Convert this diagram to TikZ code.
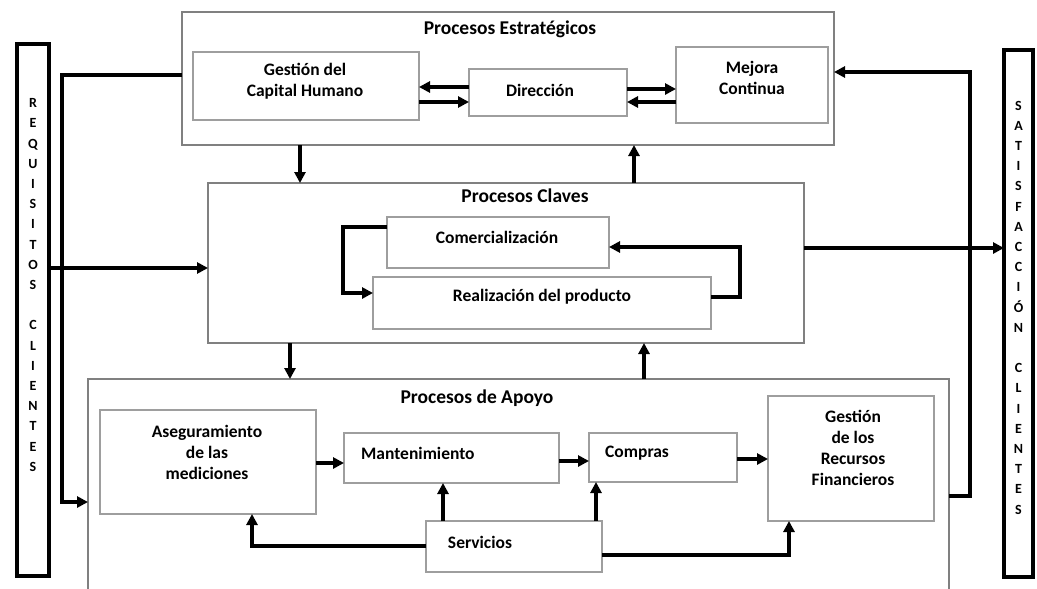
\documentclass[tikz,border=0pt]{standalone}
\usepackage{fontspec}
\setmainfont{Carlito}
\usetikzlibrary{arrows.meta,fit}
\begin{document}
\begin{tikzpicture}[x=1pt,y=-1pt,
  outerbox/.style={draw=black!50, line width=2.7pt, inner sep=0pt, outer sep=0pt},
  innerbox/.style={draw=black!38, line width=2.2pt, inner sep=0pt, outer sep=0pt},
  sidebar/.style={draw=black, line width=3.8pt, inner sep=0pt, outer sep=0pt},
  arr/.style={draw=black, line width=3.2pt, -{Triangle[length=11pt,width=11pt]}},
  title/.style={font=\fontsize{19.5}{21}\selectfont\bfseries, inner sep=0pt},
  lbl/.style={font=\fontsize{17.5}{21}\selectfont\bfseries, align=center, inner sep=0pt},
  vert/.style={font=\fontsize{14}{20.2}\selectfont\bfseries, align=center, inner sep=0pt}]

\fill[white] (0,0) rectangle (1037,589);
\useasboundingbox (0,0) rectangle (1037,589);
\clip (0,0) rectangle (1037,589);

% side bars
\node[sidebar, fit={(17,44) (49,576)}] (req) {};
\node[vert] (reqtxt) at (33,285) {R\\E\\Q\\U\\I\\S\\I\\T\\O\\S\\[20.2pt]C\\L\\I\\E\\N\\T\\E\\S};
\node[sidebar, fit={(1004,50) (1033,577)}] (sat) {};
\node[vert] (sattxt) at (1018.5,307.5) {S\\A\\T\\I\\S\\F\\A\\C\\C\\I\\Ó\\N\\[20.2pt]C\\L\\I\\E\\N\\T\\E\\S};

% strategic processes
\node[outerbox, fit={(182,12) (834,145)}] (estr) {};
\node[title] (estrt) at (510,29) {Procesos Estratégicos};
\node[innerbox, fit={(193,52) (419,120)}] (gch) {};
\node[lbl] (gcht) at (305,81) {Gestión del\\Capital Humano};
\node[innerbox, fit={(469,69) (627,116)}] (dir) {};
\node[lbl] (dirt) at (540,90) {Dirección};
\node[innerbox, fit={(676,47) (828,123)}] (mej) {};
\node[lbl] (mejt) at (752,78) {Mejora\\Continua};

% key processes
\node[outerbox, fit={(208,183) (804,343)}] (clav) {};
\node[title] (clavt) at (525,196) {Procesos Claves};
\node[innerbox, fit={(387,217) (609,268)}] (com) {};
\node[lbl] (comt) at (497,237) {Comercialización};
\node[innerbox, fit={(373,277) (711,329)}] (real) {};
\node[lbl] (realt) at (542,297) {Realización del producto};

% support processes
\node[outerbox, fit={(88,379) (949,600)}] (apo) {};
\node[title] (apot) at (477,398) {Procesos de Apoyo};
\node[innerbox, fit={(100,410) (316,514)}] (ase) {};
\node[lbl] (aset) at (207,452) {Aseguramiento\\de las\\mediciones};
\node[innerbox, fit={(344,433) (559,483)}] (man) {};
\node[lbl, anchor=west] (mant) at (361,453) {Mantenimiento};
\node[innerbox, fit={(589,433) (737,482)}] (comp) {};
\node[lbl, anchor=west] (compt) at (605,453) {Compras};
\node[innerbox, fit={(768,396) (934,521)}] (grf) {};
\node[lbl] (grft) at (853,448) {Gestión\\de los\\Recursos\\Financieros};
\node[innerbox, fit={(426,521) (602,572)}] (serv) {};
\node[lbl] (servt) at (480,542) {Servicios};

% strategic links
\draw[arr] (dir.west |- 0,87) -- (gch.east |- 0,87);
\draw[arr] (gch.east |- 0,102) -- (dir.west |- 0,102);
\draw[arr] (dir.east |- 0,89) -- (mej.west |- 0,89);
\draw[arr] (mej.west |- 0,102) -- (dir.east |- 0,102);

% between levels
\draw[arr] (estr.south -| 300,0) -- (clav.north -| 300,0);
\draw[arr] (clav.north -| 634,0) -- (estr.south -| 634,0);
\draw[arr] (clav.south -| 290,0) -- (apo.north -| 290,0);
\draw[arr] (apo.north -| 644,0) -- (clav.south -| 644,0);

% key process loop
\draw[arr] (com.west |- 0,227) -| (343,260) |- (real.west |- 0,293);
\draw[arr] (real.east |- 0,297) -| (740,270) |- (com.east |- 0,247);

% customer requirements and satisfaction
\draw[arr] (req.east |- 0,268) -- (clav.west |- 0,268);
\draw[arr] (clav.east |- 0,248) -- (sat.west |- 0,248);
\draw[arr] (estr.west |- 0,75) -| (62,300) |- (apo.west |- 0,502);
\draw[arr] (apo.east |- 0,496) -| (970,300) |- (estr.east |- 0,72);

% support process links
\draw[arr] (ase.east |- 0,463) -- (man.west |- 0,463);
\draw[arr] (man.east |- 0,461) -- (comp.west |- 0,461);
\draw[arr] (comp.east |- 0,459) -- (grf.west |- 0,459);
\draw[arr] (serv.north -| 443,0) -- (man.south -| 443,0);
\draw[arr] (serv.north -| 596,0) -- (comp.south -| 596,0);
\draw[arr] (serv.west |- 0,546) -| (ase.south -| 252,0);
\draw[arr] (serv.east |- 0,555) -| (grf.south -| 789,0);
\end{tikzpicture}
\end{document}
